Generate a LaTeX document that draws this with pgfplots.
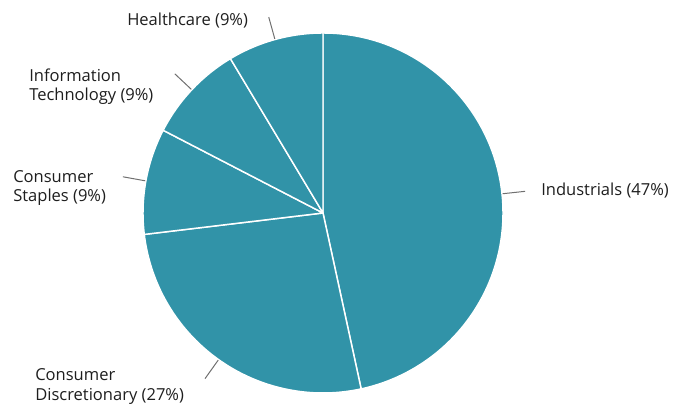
\documentclass[border=0pt]{standalone}
\usepackage{pgfplots}
\usepackage{pgfplotstable}
\pgfplotsset{compat=1.18}
\usepackage{fontspec}
\setmainfont{Open Sans}
\definecolor{slice}{RGB}{49,147,168}
\definecolor{txt}{HTML}{1E1E1E}
\definecolor{lead}{HTML}{707070}
\pgfplotstableread{
value
46.6
26.5
9.5
8.8
8.6
}\piedata
\begin{document}
\begin{tikzpicture}
\begin{axis}[x=0.75pt,y=0.75pt,xmin=0,xmax=682,ymin=0,ymax=414,
  hide axis,clip=false,scale only axis]
\path (axis cs:0,0) rectangle (axis cs:682,414);
\pgfplotsextra{
  \gdef\curang{90}
  \foreach \i in {0,...,4}{
    \pgfplotstablegetelem{\i}{value}\of\piedata
    \pgfmathsetmacro{\endang}{\curang-3.6*\pgfplotsretval}
    \pgfmathsetmacro{\midang}{(\curang+\endang)/2}
    \fill[slice,draw=white,line width=1.1pt,line join=round]
      (axis cs:323,201) -- ++(\curang:135pt)
      arc[start angle=\curang,end angle=\endang,radius=135pt] -- cycle;
    \draw[lead,line width=0.75pt] (axis cs:323,201) ++(\midang:135.5pt) -- ++(\midang:17pt);
    \xdef\curang{\endang}
  }
}
\begin{scope}[every node/.style={text=txt,anchor=base west,inner sep=0pt,font=\fontsize{12.4}{14}\selectfont}]
\node at (axis cs:541,218) {Industrials (47\%)};
\node at (axis cs:127,388) {Healthcare (9\%)};
\node at (axis cs:29,332) {Information};
\node at (axis cs:29,313) {Technology (9\%)};
\node at (axis cs:13,231) {Consumer};
\node at (axis cs:13,212) {Staples (9\%)};
\node at (axis cs:35,33) {Consumer};
\node at (axis cs:35,13) {Discretionary (27\%)};
\end{scope}
\end{axis}
\end{tikzpicture}
\end{document}
